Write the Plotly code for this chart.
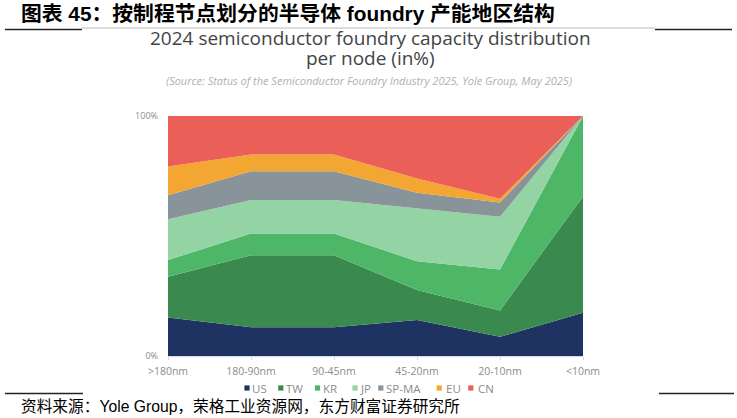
import plotly.graph_objects as go

W, H = 737, 418

nodes = [">180nm", "180-90nm", "90-45nm", "45-20nm", "20-10nm", "<10nm"]
us = [16, 12, 12, 15, 8, 18]
tw = [17, 30, 30, 12.5, 11, 48.5]
kr = [7, 9, 9, 12, 17, 33.5]
jp = [17, 14, 14, 22, 22, 0]
spma = [10, 12, 12, 6.5, 6, 0]
eu = [12, 7, 7, 6, 1.5, 0]
cn = [21, 16, 16, 26, 34.5, 0]

series = [
    ("US", us, "#1f3363"),
    ("TW", tw, "#3a8a4f"),
    ("KR", kr, "#4db767"),
    ("JP", jp, "#94d3a3"),
    ("SP-MA", spma, "#88949a"),
    ("EU", eu, "#f4a632"),
    ("CN", cn, "#eb5f59"),
]

xpos = list(range(len(nodes)))

fig = go.Figure()
for name, vals, col in series:
    fig.add_trace(go.Scatter(
        x=xpos, y=vals, name=name, stackgroup="one", mode="lines",
        line=dict(width=0, color=col), fillcolor=col, showlegend=False,
    ))

def px(x):
    return x / W

def py(y):
    return 1 - y / H

gray = "#8c8c8c"
chart_font = "Open Sans, Noto Sans, sans-serif"
cjk_font = "Liberation Sans, Noto Sans CJK SC, sans-serif"

fig.update_layout(
    width=W, height=H, autosize=False,
    margin=dict(l=0, r=0, t=0, b=0, pad=0),
    paper_bgcolor="white", plot_bgcolor="white",
    xaxis=dict(
        domain=[px(168), px(583)], range=[0, 5], tickmode="array",
        tickvals=xpos, ticktext=nodes, showgrid=False, zeroline=False,
        showline=True, linecolor="#d6dbe3", linewidth=1,
        ticks="outside", ticklen=3, tickcolor="#d6dbe3",
        tickfont=dict(family=chart_font, size=10.5, color=gray),
        ticklabelstandoff=2, automargin=False,
    ),
    yaxis=dict(
        domain=[py(356), py(116)], range=[0, 100], tickmode="array",
        tickvals=[0, 100], ticktext=["0%", "100%"], showgrid=False,
        zeroline=False, showline=False, ticks="",
        tickfont=dict(family=chart_font, size=9, color=gray),
        ticklabelstandoff=9, automargin=False,
    ),
    showlegend=False,
)

anns = []
anns.append(dict(
    text="<b>图表 45：按制程节点划分的半导体 foundry 产能地区结构</b>",
    x=px(19), y=py(14), xanchor="left", yanchor="middle",
    font=dict(family=cjk_font, size=20.8, color="#000000"),
))
anns.append(dict(
    text="2024 semiconductor foundry capacity distribution",
    x=px(370), y=py(37.5), xanchor="center", yanchor="middle",
    font=dict(family=chart_font, size=19, color="#444444"),
))
anns.append(dict(
    text="per node (in%)",
    x=px(370), y=py(58.5), xanchor="center", yanchor="middle",
    font=dict(family=chart_font, size=19, color="#444444"),
))
anns.append(dict(
    text="<i>(Source: Status of the Semiconductor Foundry Industry 2025, Yole Group, May 2025)</i>",
    x=px(369), y=py(81), xanchor="center", yanchor="middle",
    font=dict(family=chart_font, size=11, color="#b0b0b0"),
))

# Legend (squares + labels)
leg_sq_x = [247, 280.8, 317.5, 355, 380.8, 439.2, 470.8]
leg_tx_x = [249.5, 283.5, 320.5, 357.5, 383.5, 443.5, 475.5]
leg_y = 388
shapes = []
for (name, _, col), sx, tx in zip(series, leg_sq_x, leg_tx_x):
    shapes.append(dict(type="rect", x0=px(sx - 2.6), x1=px(sx + 2.6),
                       y0=py(leg_y + 2.6), y1=py(leg_y - 2.6),
                       fillcolor=col, line=dict(width=0)))
    anns.append(dict(
        text=name, x=px(tx), y=py(leg_y), xanchor="left", yanchor="middle",
        font=dict(family=chart_font, size=11.5, color=gray),
    ))

anns.append(dict(
    text="资料来源：Yole Group，荣格工业资源网，东方财富证券研究所",
    x=px(19), y=py(406), xanchor="left", yanchor="middle",
    font=dict(family=cjk_font, size=15.7, color="#000000"),
))
for a in anns:
    a.update(xref="paper", yref="paper", showarrow=False)
fig.update_layout(annotations=anns)

shapes += [
    dict(type="line", x0=px(5), x1=px(82), y0=py(29.5), y1=py(29.5), line=dict(color="#222222", width=1.5)),
    dict(type="line", x0=px(655), x1=px(732), y0=py(29.5), y1=py(29.5), line=dict(color="#222222", width=1.5)),
    dict(type="line", x0=px(82), x1=px(655), y0=py(28), y1=py(28), line=dict(color="#bbbbbb", width=1)),
    dict(type="line", x0=px(5), x1=px(83), y0=py(393.5), y1=py(393.5), line=dict(color="#222222", width=1.5)),
    dict(type="line", x0=px(659), x1=px(734), y0=py(393.5), y1=py(393.5), line=dict(color="#222222", width=1.5)),
]
for s in shapes:
    s.update(xref="paper", yref="paper")
fig.update_layout(shapes=shapes)

fig.write_html("out.html")
